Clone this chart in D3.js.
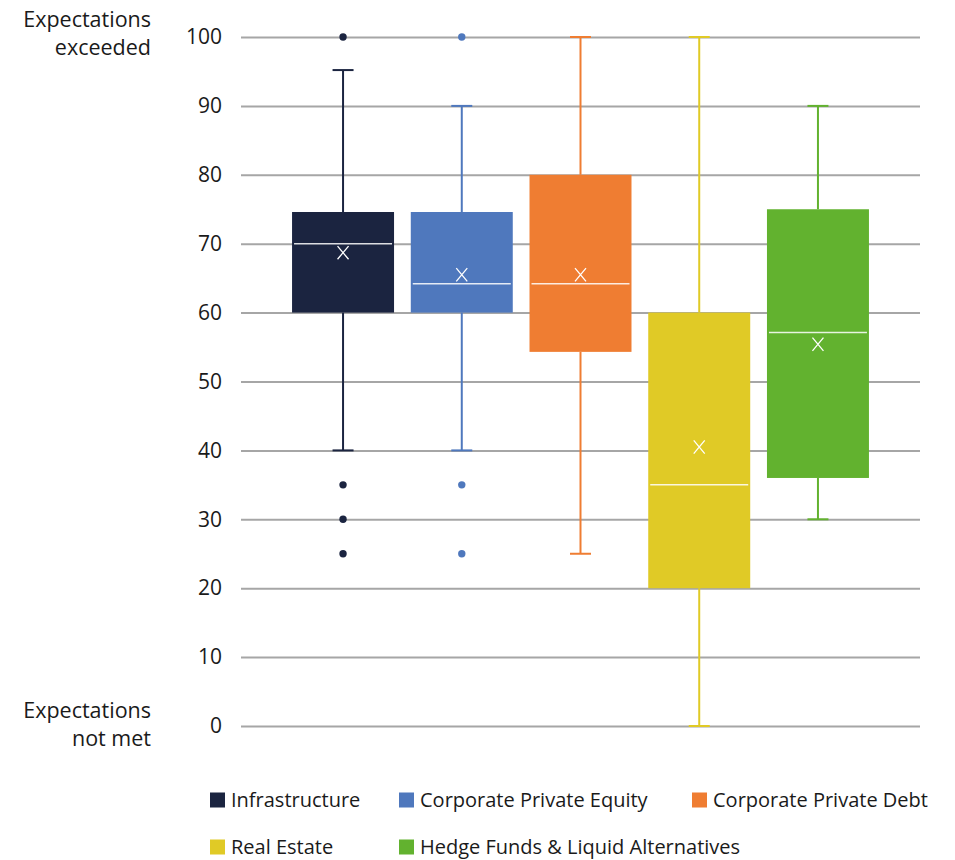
<!DOCTYPE html>
<html><head><meta charset="utf-8">
<script src="https://cdn.jsdelivr.net/npm/d3@7"></script>
<style>
body{margin:0;background:#fff;}
text{font-family:"Open Sans","Noto Sans",sans-serif;fill:#1a1a1a;}
</style></head>
<body><svg id="c" width="955" height="860"></svg>
<script>
const categories = ["Infrastructure","Corporate Private Equity","Corporate Private Debt","Real Estate","Hedge Funds & Liquid Alternatives"];
const colors = ["#1b2440","#4f78bd","#ef7d32","#e0ca26","#62b22f"];
const whiskerLow = [40,40,25,0,30];
const q1 = [60,60,54.3,20,36];
const median = [70,64.2,64.2,35,57.1];
const q3 = [74.6,74.6,80,60,75];
const whiskerHigh = [95.2,90,100,100,90];
const means = [68.7,65.5,65.5,40.5,55.4];
const outliers = [[100,35,30,25],[100,35,25],[],[],[]];
const yTicks = [0,10,20,30,40,50,60,70,80,90,100];

(function(){
const svg = d3.select("#c");
const pl = 241, pr = 920, pt = 37, pb = 726;
const y = d3.scaleLinear().domain([0,100]).range([pb, pt]);
const x = d3.scaleBand().domain(categories).range([pl, pr]).paddingInner(0.141).paddingOuter(0.43);

const ax = svg.append("g").attr("transform",`translate(${pl},0)`)
  .call(d3.axisLeft(y).tickValues(yTicks).tickSize(-(pr-pl)).tickPadding(19).tickFormat(d3.format("d")));
ax.select(".domain").remove();
ax.selectAll(".tick line").attr("stroke","#a6a6a6").attr("stroke-width",2);
ax.selectAll(".tick text").attr("font-size",21).attr("fill","#1a1a1a").style("font-family","'Open Sans',sans-serif");

const lab = svg.append("g").attr("font-size",21.5).attr("text-anchor","end");
lab.append("text").attr("x",151).attr("y",27).text("Expectations");
lab.append("text").attr("x",151).attr("y",55).text("exceeded");
lab.append("text").attr("x",151).attr("y",718).text("Expectations");
lab.append("text").attr("x",151).attr("y",746).text("not met");

const bw = x.bandwidth();
categories.forEach((c,i)=>{
  const g = svg.append("g");
  const cx = x(c) + bw/2;
  const col = colors[i];
  g.append("line").attr("x1",cx).attr("x2",cx).attr("y1",y(q3[i])).attr("y2",y(whiskerHigh[i])).attr("stroke",col).attr("stroke-width",2);
  g.append("line").attr("x1",cx).attr("x2",cx).attr("y1",y(q1[i])).attr("y2",y(whiskerLow[i])).attr("stroke",col).attr("stroke-width",2);
  [whiskerHigh[i], whiskerLow[i]].forEach(v=>{
    g.append("line").attr("x1",cx-10.5).attr("x2",cx+10.5).attr("y1",y(v)).attr("y2",y(v)).attr("stroke",col).attr("stroke-width",2);
  });
  g.append("rect").attr("x",x(c)).attr("width",bw).attr("y",y(q3[i])).attr("height",y(q1[i])-y(q3[i])).attr("fill",col);
  g.append("line").attr("x1",x(c)+2).attr("x2",x(c)+bw-2).attr("y1",y(median[i])).attr("y2",y(median[i])).attr("stroke","#ffffff").attr("stroke-opacity",0.85).attr("stroke-width",1.5);
  const my = y(means[i]), s = 5.5;
  g.append("path").attr("d",`M${cx-s},${my-s*1.2}L${cx+s},${my+s*1.2}M${cx+s},${my-s*1.2}L${cx-s},${my+s*1.2}`).attr("stroke","#fff").attr("stroke-width",1.3).attr("fill","none");
  outliers[i].forEach(v=>{
    g.append("circle").attr("cx",cx).attr("cy",y(v)).attr("r",3.7).attr("fill",col);
  });
});

const legendPos = [[210,800],[399,800],[692,800],[210,847],[399,847]];
categories.forEach((c,i)=>{
  const [lx,ly] = legendPos[i];
  svg.append("rect").attr("x",lx).attr("y",ly-7.5).attr("width",15).attr("height",15).attr("fill",colors[i]);
  svg.append("text").attr("x",lx+21).attr("y",ly+7).attr("font-size",20).text(c);
});
})();
</script></body></html>
